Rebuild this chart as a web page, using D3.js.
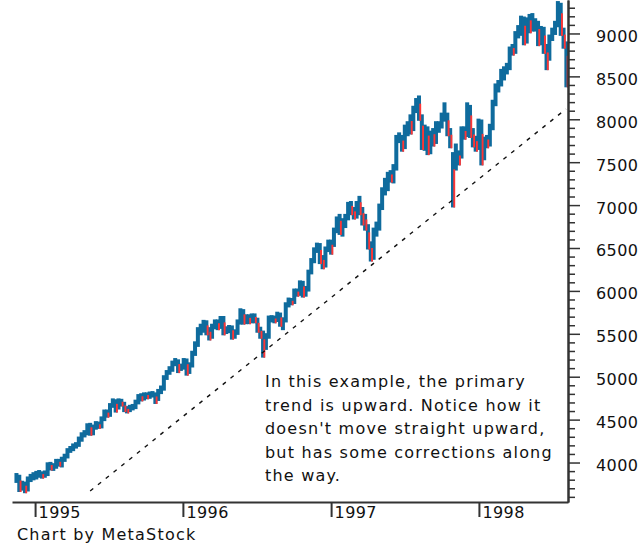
<!DOCTYPE html>
<html>
<head>
<meta charset="utf-8">
<script src="https://cdn.jsdelivr.net/npm/d3@7"></script>
<style>
  html, body { margin: 0; padding: 0; background: #fff; }
  svg { display: block; }
  .lbl { font-family: "DejaVu Sans", sans-serif; font-size: 16px; fill: #111; }
</style>
</head>
<body>
<svg id="chart" width="639" height="544"></svg>
<script>
// weekly DJIA bars, week ending Friday 1994-11-18 .. 1998-08-07
var firstWeek = new Date(1994, 10, 18);
var lastWeek = new Date(1998, 7, 7);
var prevClose = 3801;

var closes = [
  3830, 3708, 3745, 3685, 3807, 3833, 3834,
  // 1995
  3867, 3867, 3854, 3872, 3970, 3937, 3954, 4011, 3989, 4035, 4073, 4139, 4158,
  4192, 4208, 4270, 4321, 4343, 4430, 4341, 4412, 4445, 4423, 4510, 4589, 4556,
  4664, 4708, 4641, 4715, 4683, 4618, 4616, 4639, 4647, 4704, 4764, 4747, 4789,
  4770, 4793, 4794, 4741, 4825, 4864, 4989, 5048, 5087, 5156, 5176, 5097, 5117,
  // 1996
  5181, 5061, 5135, 5271, 5374, 5540, 5551, 5630, 5537, 5470, 5584, 5636, 5587,
  5672, 5532, 5535, 5567, 5478, 5518, 5635, 5762, 5643, 5697, 5649, 5705, 5655,
  5550, 5511, 5426, 5473, 5680, 5681, 5666, 5722, 5616, 5659, 5838, 5888, 5872,
  5993, 5969, 6094, 5960, 6021, 6219, 6348, 6472, 6522, 6380, 6304, 6484, 6560,
  // 1997
  6544, 6703, 6833, 6696, 6813, 6856, 6988, 6931, 6878, 7000, 6935, 6804, 6740,
  6527, 6391, 6703, 6738, 6976, 7169, 7194, 7345, 7331, 7435, 7782, 7797, 7687,
  7895, 7921, 7891, 8113, 8194, 8031, 7694, 7888, 7622, 7822, 7742, 7922, 7922,
  8038, 8045, 7847, 7715, 7442, 7581, 7572, 7882, 7823, 8149, 7838, 7756, 7679,
  // 1998
  7965, 7580, 7753, 7712, 7907, 8189, 8370, 8413, 8546, 8569, 8602, 8803, 8796,
  8983, 9056, 9167, 8917, 9147, 9055, 9096, 9114, 8900, 9049, 8834, 8712, 8945,
  9025, 9105, 9337, 9017, 8883, 8599
];

var lows = [
  3780, 3674, 3690, 3660, 3680, 3790, 3810,
  3820, 3840, 3830, 3840, 3860, 3925, 3920, 3945, 3970, 3960, 4025, 4065, 4130,
  4150, 4180, 4200, 4260, 4310, 4335, 4330, 4335, 4400, 4410, 4415, 4500, 4540,
  4550, 4655, 4600, 4635, 4670, 4605, 4590, 4605, 4625, 4640, 4695, 4730, 4740,
  4755, 4760, 4775, 4700, 4735, 4815, 4855, 4980, 5040, 5075, 5140, 5060, 5085,
  5100, 5030, 5050, 5125, 5260, 5365, 5500, 5530, 5500, 5440, 5460, 5570, 5560,
  5575, 5500, 5515, 5525, 5450, 5460, 5505, 5625, 5625, 5630, 5630, 5640, 5640,
  5530, 5460, 5240, 5330, 5460, 5650, 5640, 5655, 5600, 5560, 5650, 5825, 5850,
  5865, 5950, 5960, 5940, 5950, 6010, 6210, 6340, 6460, 6330, 6270, 6290, 6470,
  6440, 6530, 6690, 6670, 6650, 6750, 6840, 6900, 6850, 6860, 6900, 6780, 6720,
  6500, 6360, 6380, 6650, 6720, 6960, 7130, 7180, 7280, 7270, 7420, 7740, 7640,
  7670, 7820, 7840, 7880, 8090, 8000, 7660, 7650, 7600, 7610, 7700, 7730, 7860,
  7910, 7990, 7820, 7680, 6990, 7420, 7480, 7560, 7780, 7810, 7800, 7690, 7640,
  7660, 7480, 7540, 7680, 7700, 7890, 8170, 8330, 8400, 8470, 8540, 8590, 8760,
  8780, 8960, 8990, 8880, 8900, 9020, 9040, 9040, 8870, 8880, 8780, 8590, 8700,
  8930, 9000, 9090, 8990, 8840, 8390
];

var highs = [
  3860, 3840, 3770, 3760, 3820, 3850, 3870,
  3885, 3895, 3880, 3890, 3985, 3990, 3975, 4025, 4025, 4050, 4085, 4150, 4175,
  4205, 4220, 4285, 4335, 4360, 4440, 4445, 4425, 4465, 4460, 4520, 4600, 4600,
  4675, 4730, 4720, 4730, 4725, 4690, 4640, 4655, 4665, 4715, 4780, 4790, 4800,
  4800, 4810, 4815, 4800, 4840, 4880, 5000, 5060, 5105, 5170, 5200, 5185, 5135,
  5200, 5195, 5150, 5285, 5395, 5560, 5600, 5645, 5640, 5560, 5600, 5650, 5650,
  5690, 5690, 5570, 5585, 5580, 5535, 5650, 5780, 5770, 5710, 5710, 5720, 5720,
  5670, 5565, 5520, 5490, 5695, 5700, 5695, 5740, 5730, 5675, 5850, 5905, 5900,
  6010, 6010, 6105, 6100, 6040, 6230, 6365, 6490, 6545, 6540, 6400, 6500, 6580,
  6580, 6720, 6850, 6880, 6830, 6880, 7020, 7030, 6960, 7030, 7090, 6960, 6880,
  6760, 6560, 6720, 6790, 7000, 7190, 7300, 7370, 7390, 7460, 7800, 7830, 7800,
  7920, 7960, 8040, 8140, 8230, 8260, 8040, 7920, 7900, 7850, 7880, 7960, 7960,
  8060, 8180, 8060, 7880, 7600, 7700, 7620, 7900, 7900, 8180, 8150, 7880, 7790,
  7990, 7980, 7780, 7800, 7930, 8210, 8400, 8440, 8570, 8600, 8640, 8830, 8860,
  9010, 9080, 9190, 9180, 9170, 9210, 9220, 9160, 9130, 9070, 9060, 8860, 8970,
  9050, 9130, 9360, 9340, 9050, 8890
];

var majorTicks = [4000, 4500, 5000, 5500, 6000, 6500, 7000, 7500, 8000, 8500, 9000];
var minorTicks = d3.range(3600, 9301, 100).filter(function(v){ return v % 500 !== 0; });
var yearTicks = [new Date(1995, 0, 1), new Date(1996, 0, 1), new Date(1997, 0, 1), new Date(1998, 0, 1)];

// primary trend line, two anchor points
var trendDates = [new Date(1995, 4, 17), new Date(1998, 7, 4)];
var trendValues = [3668, 8120];

var noteLines = [
  "In this example, the primary",
  "trend is upward. Notice how it",
  "doesn't move straight upward,",
  "but has some corrections along",
  "the way."
];

var weeks = d3.timeFriday.range(firstWeek, d3.timeDay.offset(lastWeek, 1));
var bars = weeks.map(function(d, i){
  return {
    date: d3.timeDay.offset(d, -2),
    close: closes[i],
    low: lows[i],
    high: highs[i],
    down: closes[i] < (i ? closes[i - 1] : prevClose)
  };
});

var svg = d3.select('#chart');
var x = d3.scaleTime().domain([new Date(1994, 10, 5), new Date(1998, 7, 9)]).range([12, 568]);
var y = d3.scaleLinear().domain([3540, 9390]).range([502, 0]);
var blue = '#0f6b9d', red = '#ff3535';
var pad = 1.5;

svg.append('g').selectAll('rect.up').data(bars)
  .enter().append('rect').attr('class', 'up')
  .attr('x', function(d){ return x(d.date) - 2; })
  .attr('width', 4)
  .attr('y', function(d){ return y(d.high) - pad; })
  .attr('height', function(d){ return Math.max(5, y(d.low) - y(d.high) + 2 * pad); })
  .attr('fill', blue);

// down weeks get a red streak on their right edge, toward the close
svg.append('g').selectAll('rect.dn').data(bars.filter(function(d){ return d.down; }))
  .enter().append('rect').attr('class', 'dn')
  .attr('x', function(d){ return x(d.date) + 0.3; })
  .attr('width', 1.9)
  .attr('y', function(d){ return y(d.high) + (y(d.low) - y(d.high)) * 0.3; })
  .attr('height', function(d){ return Math.max(3, (y(d.low) - y(d.high)) * 0.7 + pad); })
  .attr('fill', red);

var trend = d3.line().x(function(d){ return x(d[0]); }).y(function(d){ return y(d[1]); });
svg.append('path')
  .attr('d', trend(d3.zip(trendDates, trendValues)))
  .attr('fill', 'none').attr('stroke', '#111').attr('stroke-width', 1.4)
  .attr('stroke-dasharray', '4,6');

// axes
var yMinor = svg.append('g').attr('transform', 'translate(568,0)')
  .call(d3.axisRight(y).tickValues(minorTicks).tickSize(7).tickSizeOuter(0).tickFormat(''));
var yMajor = svg.append('g').attr('transform', 'translate(568,0)')
  .call(d3.axisRight(y).tickValues(majorTicks).tickSize(12).tickSizeOuter(0).tickPadding(16).tickFormat(d3.format('d')));
var xAxis = svg.append('g').attr('transform', 'translate(0,502)')
  .call(d3.axisBottom(x).tickValues(yearTicks).tickSize(15).tickSizeOuter(0).tickFormat(d3.timeFormat('%Y')));

[yMinor, yMajor, xAxis].forEach(function(g){
  g.selectAll('path.domain').attr('stroke', '#333').attr('stroke-width', 2);
  g.selectAll('line').attr('stroke', '#333').attr('stroke-width', 1.5);
});
yMajor.selectAll('text').attr('class', 'lbl').attr('dy', '0.5em')
  .style('letter-spacing', '0.4px');
xAxis.selectAll('line').attr('stroke-width', 2);
xAxis.selectAll('text').attr('class', 'lbl').attr('text-anchor', 'start')
  .attr('x', 3).attr('y', 16).attr('dy', 0).style('letter-spacing', '0.4px');

svg.append('g').selectAll('text').data(noteLines).enter().append('text')
  .attr('class', 'lbl').attr('x', 265)
  .attr('y', function(d, i){ return 387 + i * 23.5; })
  .style('letter-spacing', '1.2px')
  .text(function(d){ return d; });

svg.append('text').attr('class', 'lbl').attr('x', 17).attr('y', 540)
  .style('letter-spacing', '1.2px').text('Chart by MetaStock');
</script>
</body>
</html>
